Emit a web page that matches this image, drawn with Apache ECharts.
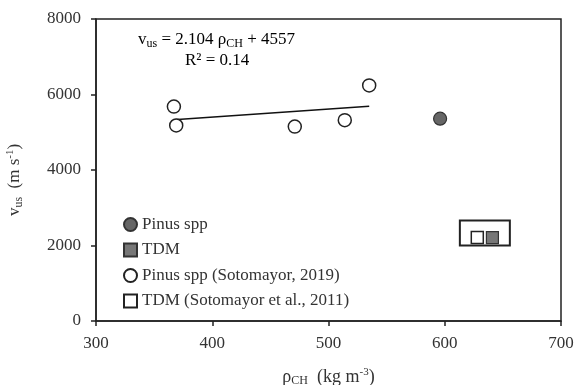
<!DOCTYPE html>
<html><head><meta charset="utf-8">
<script src="https://cdn.jsdelivr.net/npm/echarts@6/dist/echarts.min.js"></script>
<style>html,body{margin:0;padding:0;background:#fff}#c{width:577px;height:385px}</style>
</head><body><div id="c"></div>
<script>
// ---- data ----
const pinusX = [596];
const pinusY = [5360];
const tdmX = [641];
const tdmY = [2210];
const sotoPinusX = [367, 369, 471, 514, 535];
const sotoPinusY = [5680, 5180, 5150, 5320, 6240];
const sotoTdmX = [628];
const sotoTdmY = [2210];
const trendX = [367, 535];
const trendY = [5330, 5690];
const boxX = [613, 656];
const boxY = [2000, 2660];
const xTicks = [300, 400, 500, 600, 700];
const yTicks = [0, 2000, 4000, 6000, 8000];
const legendNames = ['Pinus spp', 'TDM', 'Pinus spp (Sotomayor, 2019)', 'TDM (Sotomayor et al., 2011)'];

const zip = (a, b) => a.map((v, i) => [v, b[i]]);
const FONT = "'Liberation Serif', 'Times New Roman', serif";
const TXT = '#333';
const mkRich = (fs) => ({
  n: {fontFamily: FONT, fontSize: fs, color: TXT, lineHeight: 20},
  sub: {fontFamily: FONT, fontSize: Math.round(fs * 0.68), color: TXT, lineHeight: 9, verticalAlign: 'bottom'},
  sup: {fontFamily: FONT, fontSize: Math.round(fs * 0.62), color: TXT, lineHeight: 9, verticalAlign: 'top'}
});

const chart = echarts.init(document.getElementById('c'), null, {renderer: 'canvas'});
chart.setOption({
  animation: false,
  backgroundColor: '#fff',
  grid: {left: 96, right: 16, top: 19, bottom: 64, outerBoundsMode: 'none', containLabel: false,
         show: true, borderColor: '#222', borderWidth: 1.5, backgroundColor: 'transparent'},
  legend: {
    data: legendNames,
    orient: 'vertical', left: 118, top: 211,
    itemWidth: 13, itemHeight: 13, itemGap: 8.5,
    textStyle: {fontFamily: FONT, fontSize: 17, color: TXT},
    selectedMode: false
  },
  xAxis: {
    type: 'value', min: xTicks[0], max: xTicks[xTicks.length - 1], interval: 100,
    splitLine: {show: false},
    axisLine: {lineStyle: {color: '#222', width: 1.5}},
    axisTick: {show: true, length: 5, lineStyle: {color: '#222', width: 1.5}},
    axisLabel: {fontFamily: FONT, fontSize: 17, color: TXT, margin: 14},
    name: '{n|ρ}{sub|CH}{n|  (kg m}{sup|-3}{n|)}',
    nameLocation: 'middle', nameGap: 46,
    nameTextStyle: {rich: mkRich(18)}
  },
  yAxis: {
    type: 'value', min: yTicks[0], max: yTicks[yTicks.length - 1], interval: 2000,
    splitLine: {show: false},
    axisLine: {lineStyle: {color: '#222', width: 1.5}},
    axisTick: {show: true, length: 5, lineStyle: {color: '#222', width: 1.5}},
    axisLabel: {fontFamily: FONT, fontSize: 17, color: TXT, margin: 15, formatter: (v) => String(v)},
    name: '{n|v}{sub|us}{n|  (m s}{sup|-1}{n|)}',
    nameLocation: 'middle', nameGap: 71, nameRotate: 90,
    nameTextStyle: {rich: mkRich(17), padding: [0, 20, 0, 0]}
  },
  graphic: [
    {type: 'text', left: 138, top: 31, z: 10, style: {
      text: '{n|v}{sub|us}{n| = 2.104 ρ}{sub|CH}{n| + 4557}', rich: mkRich(17)}},
    {type: 'text', left: 185, top: 52, z: 10, style: {
      text: '{n|R² = 0.14}', rich: mkRich(17)}}
  ],
  series: [
    {name: 'box', type: 'scatter', data: [], z: 1, silent: true,
     markArea: {silent: true, itemStyle: {color: '#fff', borderColor: '#222', borderWidth: 2},
       data: [[{coord: [boxX[0], boxY[0]]}, {coord: [boxX[1], boxY[1]]}]]}},
    {name: 'trend', type: 'line', data: zip(trendX, trendY), showSymbol: false, z: 2,
     lineStyle: {color: '#111', width: 1.5}, silent: true},
    {name: legendNames[0], type: 'scatter', data: zip(pinusX, pinusY), symbol: 'circle', symbolSize: 13, z: 3,
     itemStyle: {color: '#666', borderColor: '#333', borderWidth: 1.2, opacity: 1}},
    {name: legendNames[1], type: 'scatter', data: zip(tdmX, tdmY), symbol: 'rect', symbolSize: 12, z: 3,
     itemStyle: {color: '#777', borderColor: '#333', borderWidth: 1.2, opacity: 1}},
    {name: legendNames[2], type: 'scatter', data: zip(sotoPinusX, sotoPinusY), symbol: 'circle', symbolSize: 13, z: 3,
     itemStyle: {color: '#fff', borderColor: '#222', borderWidth: 1.5, opacity: 1}},
    {name: legendNames[3], type: 'scatter', data: zip(sotoTdmX, sotoTdmY), symbol: 'rect', symbolSize: 12, z: 3,
     itemStyle: {color: '#fff', borderColor: '#222', borderWidth: 1.5, opacity: 1}}
  ]
});
</script></body></html>
